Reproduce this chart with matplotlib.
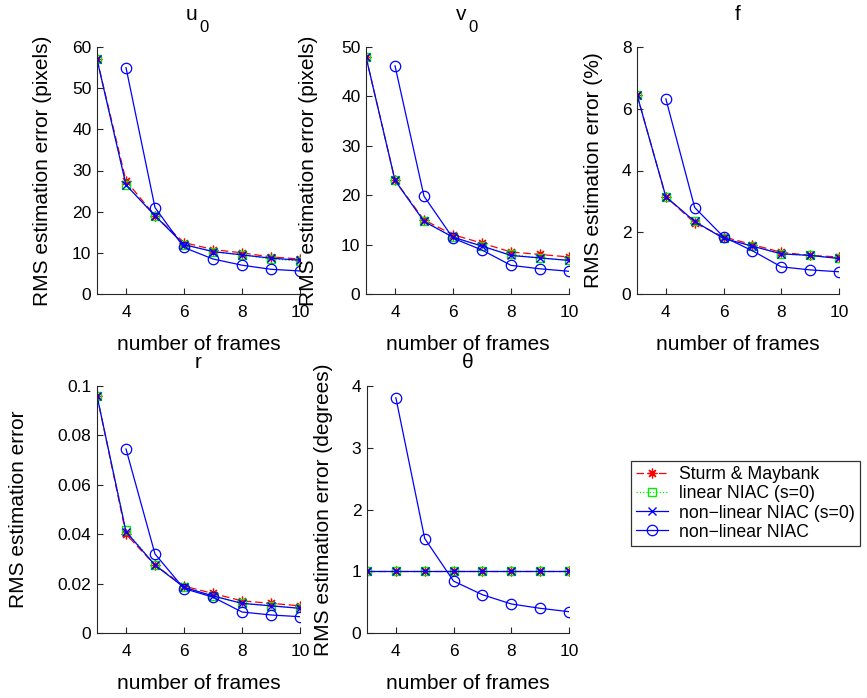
import matplotlib
matplotlib.use("Agg")
import matplotlib.pyplot as plt
from matplotlib.ticker import FuncFormatter
from matplotlib.transforms import offset_copy

plt.rcParams['font.family'] = ['Liberation Sans', 'DejaVu Sans']

frames = [3, 4, 5, 6, 7, 8, 9, 10]
frames_niac = [4, 5, 6, 7, 8, 9, 10]

# u0
u0_sturm = [57, 27.5, 19.0, 12.5, 10.8, 10.0, 9.0, 8.5]
u0_lin = [57, 26.5, 19.0, 12.0, 10.3, 9.5, 8.5, 8.0]
u0_nl = [57, 26.5, 19.0, 12.0, 10.3, 9.5, 8.7, 8.2]
u0_niac = [55, 21.0, 11.3, 8.5, 7.0, 6.0, 5.6]
# v0
v0_sturm = [48, 23.0, 15.0, 12.0, 10.3, 8.5, 8.0, 7.5]
v0_lin = [48, 23.0, 14.7, 11.5, 9.7, 8.0, 7.3, 6.8]
v0_nl = [48, 23.0, 14.7, 11.5, 9.7, 7.8, 7.3, 6.8]
v0_niac = [46.2, 19.8, 11.3, 8.9, 5.8, 5.1, 4.6]
# f
f_sturm = [6.45, 3.15, 2.3, 1.85, 1.6, 1.35, 1.25, 1.2]
f_lin = [6.45, 3.15, 2.35, 1.8, 1.55, 1.3, 1.25, 1.15]
f_nl = [6.45, 3.15, 2.35, 1.8, 1.55, 1.3, 1.25, 1.15]
f_niac = [6.32, 2.8, 1.85, 1.4, 0.88, 0.78, 0.72]
# r
r_sturm = [0.096, 0.040, 0.0275, 0.019, 0.016, 0.013, 0.012, 0.011]
r_lin = [0.096, 0.0415, 0.0275, 0.0185, 0.015, 0.012, 0.011, 0.010]
r_nl = [0.096, 0.041, 0.0275, 0.0185, 0.015, 0.012, 0.011, 0.010]
r_niac = [0.0745, 0.032, 0.018, 0.0145, 0.0085, 0.0073, 0.0066]
# theta
t_sturm = [1, 1, 1, 1, 1, 1, 1, 1]
t_lin = [1, 1, 1, 1, 1, 1, 1, 1]
t_nl = [1, 1, 1, 1, 1, 1, 1, 1]
t_niac = [3.81, 1.53, 0.84, 0.62, 0.47, 0.40, 0.345]

titles = [('u', '0'), ('v', '0'), ('f', ''), ('r', ''), ('θ', '')]
ylabels = ['RMS estimation error (pixels)', 'RMS estimation error (pixels)',
           'RMS estimation error (%)', 'RMS estimation error',
           'RMS estimation error (degrees)']
yticks = [[0, 10, 20, 30, 40, 50, 60], [0, 10, 20, 30, 40, 50],
          [0, 2, 4, 6, 8], [0, 0.02, 0.04, 0.06, 0.08, 0.1], [0, 1, 2, 3, 4]]
ylims = [(0, 60), (0, 50), (0, 8), (0, 0.1), (0, 4)]
data = [(u0_sturm, u0_lin, u0_nl, u0_niac), (v0_sturm, v0_lin, v0_nl, v0_niac),
        (f_sturm, f_lin, f_nl, f_niac), (r_sturm, r_lin, r_nl, r_niac),
        (t_sturm, t_lin, t_nl, t_niac)]
labels = ['Sturm & Maybank', 'linear NIAC (s=0)', 'non\u2212linear NIAC (s=0)', 'non\u2212linear NIAC']

W, H = 867, 698
fig = plt.figure(figsize=(W / 100, H / 100), dpi=100)
# axes boxes in pixels: left, top, right, bottom
pos_px = [(97, 47, 300, 294), (366, 47, 569, 294), (637, 47, 839, 294),
          (97, 386, 300, 633), (367, 386, 569, 633)]
ylab_right_px = [52, 318, 603, 28, 333]
title_base_px = [20, 20, 20, 368, 368]

fs_tick = 12.5
fs_lab = 15
handles = None
for i, (x0, y0, x1, y1) in enumerate(pos_px):
    w, h = x1 - x0, y1 - y0
    ax = fig.add_axes([x0 / W, 1 - y1 / H, w / W, h / H])
    s, l, n, c = data[i]
    h1, = ax.plot(frames, s, color='red', ls='--', marker=(8, 2, 0), ms=7, lw=0.9,
                  dashes=(6, 3), mew=0.9)
    h2, = ax.plot(frames, l, color='#00ee00', ls=':', marker='s', ms=6, lw=0.9,
                  mfc='none', mew=1.0)
    h3, = ax.plot(frames, n, color='blue', ls='-', marker='x', ms=5.5, lw=0.9,
                  mew=1.0)
    h4, = ax.plot(frames_niac, c, color='blue', ls='-', marker='o', ms=7.5, lw=0.9,
                  mfc='none', mew=0.9)
    handles = [h1, h2, h3, h4]
    ax.set_xlim(3, 10)
    ax.set_ylim(*ylims[i])
    ax.set_xticks([4, 6, 8, 10])
    ax.set_yticks(yticks[i])
    ax.yaxis.set_major_formatter(FuncFormatter(lambda v, p: '%g' % v))
    for sp in ['top', 'right']:
        ax.spines[sp].set_visible(False)
    ax.spines['left'].set_color('#262626')
    ax.spines['bottom'].set_color('#262626')
    ax.tick_params(direction='in', length=4, labelsize=fs_tick, colors='#262626',
                   labelcolor='black')
    ax.tick_params(axis='x', pad=8)
    ax.tick_params(axis='y', pad=4)
    # title
    tb = (y1 - title_base_px[i]) / h
    main, sub = titles[i]
    if sub:
        ax.text(0.5, tb, main, transform=offset_copy(ax.transAxes, fig=fig, x=-1, y=0, units='dots'),
                ha='right', va='baseline', fontsize=fs_lab)
        ax.text(0.5, tb, sub, transform=offset_copy(ax.transAxes, fig=fig, x=1, y=-12, units='dots'),
                ha='left', va='baseline', fontsize=12)
    else:
        ax.text(0.5, tb, main, transform=ax.transAxes, ha='center', va='baseline',
                fontsize=fs_lab)
    ax.set_xlabel('number of frames', fontsize=fs_lab)
    ax.xaxis.set_label_coords(0.5, -0.168)
    ax.set_ylabel(ylabels[i], fontsize=fs_lab)
    ax.yaxis.set_label_coords((ylab_right_px[i] - x0) / w, 0.5)

leg = fig.legend(handles, labels, loc='upper left',
                 bbox_to_anchor=(631 / W, 1 - 461 / H),
                 fontsize=12.7, frameon=True, fancybox=False,
                 edgecolor='black', labelspacing=0.12, handlelength=1.8,
                 borderpad=0.3, handletextpad=0.6, borderaxespad=0)
leg.get_frame().set_linewidth(0.9)

fig.savefig('out.png', dpi=100)
